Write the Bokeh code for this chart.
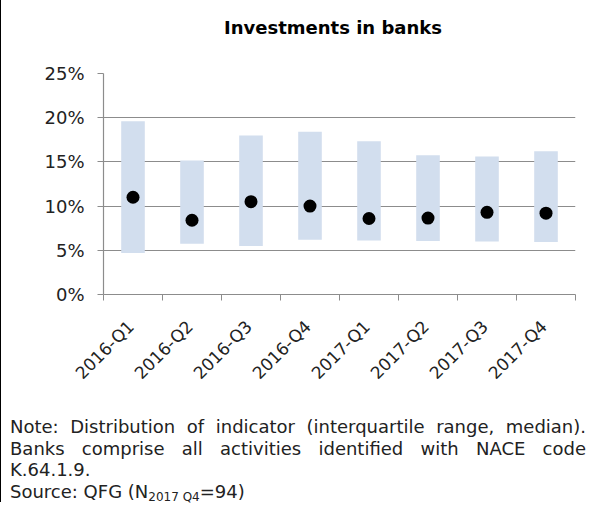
from bokeh.plotting import figure
from bokeh.models import (Range1d, FixedTicker, PrintfTickFormatter, CustomJSTickFormatter,
                          ColumnDataSource, Div)
from bokeh.layouts import column, row
from bokeh.embed import file_html
from bokeh.resources import INLINE
import math

quarters = ["2016-Q1", "2016-Q2", "2016-Q3", "2016-Q4",
            "2017-Q1", "2017-Q2", "2017-Q3", "2017-Q4"]
lower_q = [4.7, 5.75, 5.5, 6.2, 6.1, 6.05, 6.0, 5.95]
upper_q = [19.6, 15.15, 18.0, 18.4, 17.35, 15.75, 15.6, 16.2]
median = [11.0, 8.4, 10.5, 10.0, 8.6, 8.65, 9.3, 9.2]
y_ticks = [0, 5, 10, 15, 20, 25]
title_text = "Investments in banks"

FONT = "DejaVu Sans"

xpos = [i + 0.5 for i in range(len(quarters))]
src = ColumnDataSource(dict(x=xpos, lo=lower_q, hi=upper_q, med=median, q=quarters))

p = figure(width=590, height=360, output_backend="svg", toolbar_location=None,
           x_range=Range1d(0, len(quarters)), y_range=Range1d(0, 25),
           min_border_left=97, min_border_right=21, min_border_top=25,
           min_border_bottom=114)
p.outline_line_color = None
p.background_fill_color = "white"
p.border_fill_color = "white"

p.vbar(x="x", bottom="lo", top="hi", width=0.4, source=src,
       fill_color="#D2DEEE", line_color=None)
p.scatter(x="x", y="med", size=13, source=src, fill_color="black", line_color=None)

# grid
p.xgrid.visible = False
p.ygrid.ticker = FixedTicker(ticks=y_ticks)
p.ygrid.grid_line_color = "#8C8C8C"
p.ygrid.grid_line_width = 1.2

# y axis
ya = p.yaxis[0]
ya.ticker = FixedTicker(ticks=y_ticks)
ya.formatter = PrintfTickFormatter(format="%d%%")
ya.axis_line_color = "#8C8C8C"
ya.axis_line_width = 1.2
ya.major_tick_line_color = "#8C8C8C"
ya.major_tick_in = 0
ya.major_tick_out = 6
ya.minor_tick_line_color = None
ya.major_label_text_font = FONT
ya.major_label_text_font_size = "18px"
ya.major_label_text_color = "#222222"
ya.major_label_standoff = 13

# x axis: labels for categories, tick marks between categories
label_shift = -0.035
xa = p.xaxis[0]
xa.ticker = FixedTicker(ticks=[x + label_shift for x in xpos],
                        minor_ticks=list(range(len(quarters) + 1)))
xa.formatter = CustomJSTickFormatter(args=dict(labels=quarters),
                                     code="return labels[Math.floor(tick)] || '';")
xa.axis_line_color = "#8C8C8C"
xa.axis_line_width = 1.2
xa.major_tick_line_color = None
xa.minor_tick_line_color = "#8C8C8C"
xa.minor_tick_in = 0
xa.minor_tick_out = 6
xa.major_label_orientation = math.pi / 4
xa.major_label_text_font = FONT
xa.major_label_text_font_size = "17px"
xa.major_label_text_color = "#222222"
xa.major_label_standoff = 23

title_div = Div(
    text=('<div style="width:590px;text-align:center;position:relative;left:27px;'
          'font-family:\'DejaVu Sans\';font-size:18px;font-weight:bold;color:#000;'
          'line-height:22px;padding-top:20px;">' + title_text + '</div>'),
    width=590, height=46)

note_html = (
    '<div style="font-family:\'DejaVu Sans\';font-size:18px;line-height:21.6px;color:#222;width:576px;">'
    '<div style="text-align:justify;text-align-last:justify;">Note: Distribution of indicator (interquartile range, median).</div>'
    '<div style="text-align:justify;text-align-last:justify;">Banks comprise all activities identified with NACE code</div>'
    '<div>K.64.1.9.</div>'
    '<div>Source: QFG (N<sub style="font-size:12px;vertical-align:-3px;line-height:0;">2017 Q4</sub>=94)</div>'
    '</div>'
)
note = Div(text=note_html, width=583, height=87,
           styles={"margin-left": "4px", "margin-top": "8px"})

frame_bar = Div(text="", width=3, height=505,
                styles={"background": "black", "flex-shrink": "0", "min-width": "3px"})

layout = row(frame_bar, column(title_div, p, note, spacing=0), spacing=0,
             styles={"margin-left": "-7px", "margin-top": "-8px", "background": "white"})

open("out.html", "w").write(file_html(layout, INLINE))
